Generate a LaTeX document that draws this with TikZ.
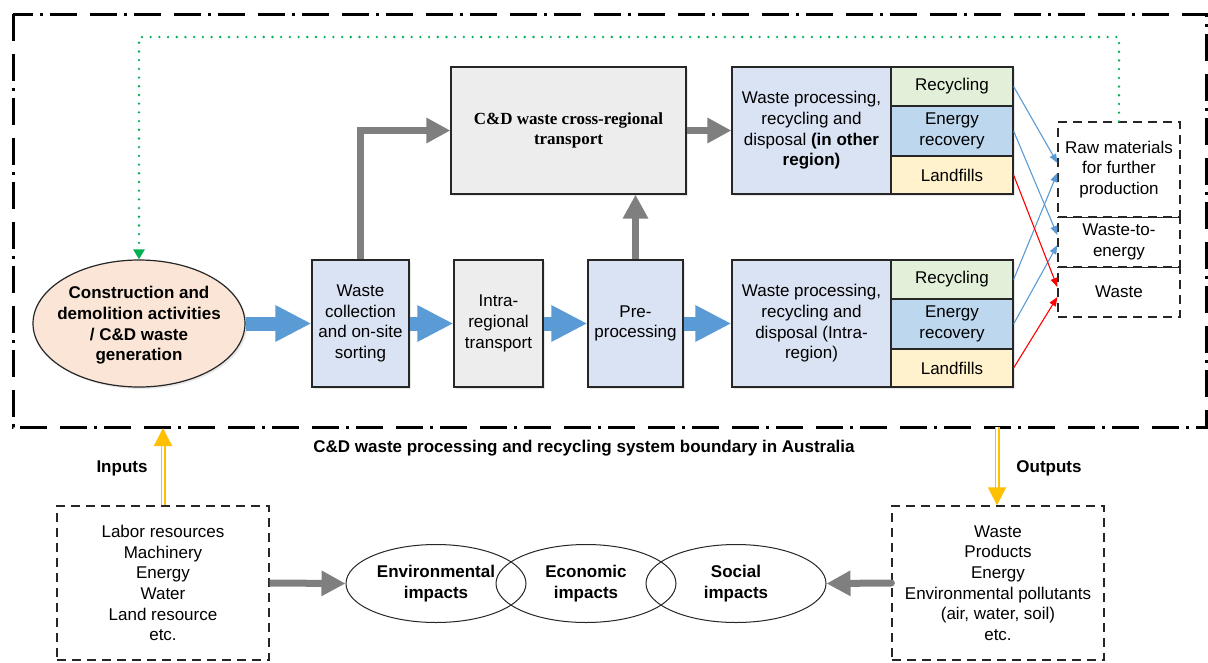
\documentclass[tikz,border=0pt]{standalone}
\usepackage{fontspec}
\setmainfont{Liberation Sans}
\newfontfamily\timesfont{Liberation Serif}
\usetikzlibrary{arrows.meta,shapes.geometric,shadows}
\definecolor{boxblue}{HTML}{DAE3F3}
\definecolor{boxgray}{HTML}{EDEDED}
\definecolor{recgreen}{HTML}{E2F0D9}
\definecolor{enblue}{HTML}{BDD7EE}
\definecolor{lfyellow}{HTML}{FFF2CC}
\definecolor{peach}{HTML}{FBE5D6}
\definecolor{arrowblue}{HTML}{5B9BD5}
\definecolor{arrowgray}{HTML}{7F7F7F}
\definecolor{gold}{HTML}{FFC000}
\definecolor{dotgreen}{HTML}{00B050}
\definecolor{edge}{HTML}{262626}
\tikzset{
  txt/.style={font=\fontsize{17}{20.7}\selectfont, align=center, text=black, inner sep=0pt},
  btxt/.style={font=\fontsize{17}{20.7}\selectfont\bfseries, align=center, text=black, inner sep=0pt},
  shad/.style={drop shadow={opacity=0.18, shadow xshift=2pt, shadow yshift=-2pt}},
  box/.style={txt, draw=edge, line width=1.2pt, rectangle, minimum height=127pt, shad},
  subbox/.style={txt, draw=edge, line width=1.2pt, rectangle, minimum width=122pt, shad},
  dashbox/.style={txt, draw=edge, line width=1.3pt, dash pattern=on 9pt off 6pt, rectangle},
  fatarrow/.style={arrowblue, line width=14pt, -{Triangle[length=36pt,width=34pt]}},
  grayarrow/.style={arrowgray, line width=7pt, line join=miter, -{Triangle[length=24pt,width=24pt]}},
  thinblue/.style={arrowblue, line width=1.1pt, -{Triangle[length=9pt,width=7pt]}},
  thinred/.style={red, line width=1.1pt, -{Triangle[length=9pt,width=7pt]}},
  goldarrow/.style={draw=gold, double=white, double distance=2pt, line width=1.5pt, -{Triangle[length=18pt,width=18pt,fill=gold]}},
  bound/.style={line width=3pt, dash pattern=on 27pt off 13pt on 27pt off 7pt on 3pt off 7pt},
  impact/.style={btxt, ellipse, draw=edge, line width=1pt, minimum width=180pt, minimum height=78pt},
}
\begin{document}
\begin{tikzpicture}[x=1pt,y=-1pt]
\useasboundingbox (0,0) rectangle (1208,662);
% system boundary
\draw[bound] (13,14) rectangle (1206,427);
\node[btxt] (blabel) at (584,448) {C\&D waste processing and recycling system boundary in Australia};

% generation ellipse
\node[ellipse, draw=edge, line width=1.2pt, fill=peach, minimum width=212pt, minimum height=127pt, inner sep=0pt, shad] (gen) at (139,323.5) {};
\node[btxt] (gentext) at ([yshift=-2pt]gen.center) {Construction and\\demolition activities\\/ C\&D waste\\generation};

% lower chain
\node[box, fill=boxblue, minimum width=97pt] (wc) at (360.5,323.5) {Waste\\collection\\and on-site\\sorting};
\node[box, fill=boxgray, minimum width=89pt] (it) at (498.5,323.5) {Intra-\\regional\\transport};
\node[box, fill=boxblue, minimum width=95pt] (pp) at (635.5,323.5) {Pre-\\processing};
\node[box, fill=boxblue, minimum width=159pt] (wpi) at (811.5,323.5) {Waste processing,\\recycling and\\disposal (Intra-\\region)};
\node[subbox, fill=recgreen, minimum height=39pt] (rec2) at (952,279.5) {Recycling};
\node[subbox, fill=enblue, minimum height=50pt] (en2) at (952,324) {Energy\\recovery};
\node[subbox, fill=lfyellow, minimum height=38pt] (lf2) at (952,368) {Landfills};

% upper chain
\node[box, fill=boxgray, minimum width=235pt, font=\fontsize{17}{20.7}\selectfont\timesfont\bfseries] (cross) at (568.5,130.5) {C\&D waste cross-regional\\transport};
\node[box, fill=boxblue, minimum width=159pt] (wpo) at (811.5,130.5) {Waste processing,\\recycling and\\disposal \textbf{(in other}\\\textbf{region)}};
\node[subbox, fill=recgreen, minimum height=39pt] (rec1) at (952,86.5) {Recycling};
\node[subbox, fill=enblue, minimum height=50pt] (en1) at (952,131) {Energy\\recovery};
\node[subbox, fill=lfyellow, minimum height=38pt] (lf1) at (952,175) {Landfills};

% outputs at right
\node[dashbox, minimum width=122pt, minimum height=95pt] (raw) at (1119,169.5) {Raw materials\\for further\\production};
\node[dashbox, minimum width=122pt, minimum height=50pt] (wte) at (1119,242) {Waste-to-\\energy};
\node[dashbox, minimum width=122pt, minimum height=50pt] (wst) at (1119,292) {Waste};
\draw[edge, line width=1.3pt] (raw.south west) -- (raw.south east);
\draw[edge, line width=1.3pt] (wte.south west) -- (wte.south east);

% fat blue arrows
\draw[fatarrow] (gen.east) -- (wc.west);
\draw[fatarrow] (wc.east) -- (it.west);
\draw[fatarrow] (it.east) -- (pp.west);
\draw[fatarrow] (pp.east) -- (wpi.west);

% gray arrows
\draw[grayarrow] (wc.north) |- (cross.west);
\draw[grayarrow] (pp.north) -- (pp.north |- cross.south);
\draw[grayarrow] (cross.east) -- (wpo.west);

% thin arrows
\draw[thinblue] (rec1.east) -- ([yshift=6.5pt]raw.west);
\draw[thinblue] (rec2.east) -- ([yshift=-3.5pt]raw.west);
\draw[thinblue] (en1.east) -- ([yshift=7pt]wte.west);
\draw[thinblue] (en2.east) -- ([yshift=-3pt]wte.west);
\draw[thinred] (lf1.east) -- ([yshift=5pt]wst.west);
\draw[thinred] (lf2.east) -- ([yshift=-5pt]wst.west);

% green feedback
\coordinate (gtop) at (0,37);
\draw[dotgreen, line width=2.6pt, dash pattern=on 0pt off 8.7pt, line cap=round, -{Triangle[length=10pt,width=11pt]}] (raw.north) -- (raw.north |- gtop) -| (gen.north);

% lower part
\node[dashbox, minimum width=212pt, minimum height=154pt] (inbox) at (163,583) {Labor resources\\Machinery\\Energy\\Water\\Land resource\\etc.};
\node[dashbox, minimum width=212pt, minimum height=154pt] (outbox) at (998,583) {Waste\\Products\\Energy\\Environmental pollutants\\(air, water, soil)\\etc.};
\node[impact] (env) at (436,583.5) {Environmental\\impacts};
\node[impact] (eco) at (586,583.5) {Economic\\impacts};
\node[impact] (soc) at (736,583.5) {Social\\impacts};

\coordinate (bin) at (163,428);
\coordinate (bout) at (997,427);
\draw[goldarrow] (inbox.north) -- (bin);
\draw[goldarrow] (bout) -- (bout |- outbox.north);
\node[btxt] (inlabel) at (122,468) {Inputs};
\node[btxt] (outlabel) at (1049,468) {Outputs};

\draw[grayarrow] (inbox.east) -- (env.west);
\draw[grayarrow, line cap=round] (outbox.west) -- (soc.east);
\end{tikzpicture}
\end{document}
